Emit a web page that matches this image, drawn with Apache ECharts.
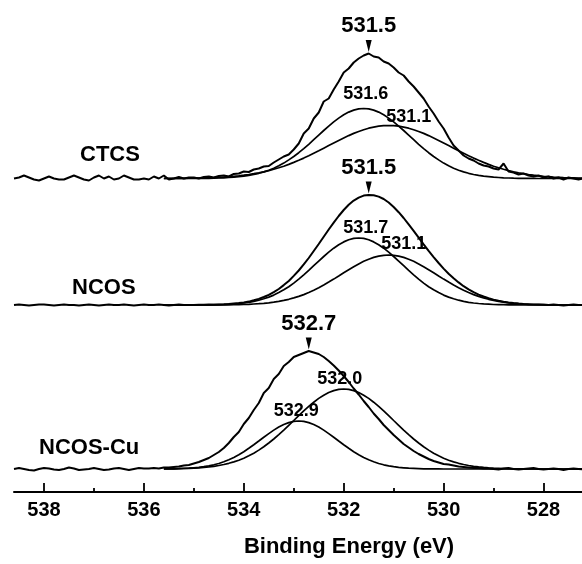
<!DOCTYPE html>
<html>
<head>
<meta charset="utf-8">
<script src="https://cdn.jsdelivr.net/npm/echarts@6/dist/echarts.min.js"></script>
<style>
  html, body { margin: 0; padding: 0; background: #fff; }
  #chart { width: 582px; height: 564px; }
</style>
</head>
<body>
<div id="chart"></div>
<script>
// O 1s spectra: measured envelopes and fitted components, binding energy in eV

// Binding energy grid of the measured spectra, 0.1 eV steps from high to low
const energy = [
  538.6, 538.5, 538.4, 538.3, 538.2, 538.1, 538.0, 537.9, 537.8, 537.7,
  537.6, 537.5, 537.4, 537.3, 537.2, 537.1, 537.0, 536.9, 536.8, 536.7,
  536.6, 536.5, 536.4, 536.3, 536.2, 536.1, 536.0, 535.9, 535.8, 535.7,
  535.6, 535.5, 535.4, 535.3, 535.2, 535.1, 535.0, 534.9, 534.8, 534.7,
  534.6, 534.5, 534.4, 534.3, 534.2, 534.1, 534.0, 533.9, 533.8, 533.7,
  533.6, 533.5, 533.4, 533.3, 533.2, 533.1, 533.0, 532.9, 532.8, 532.7,
  532.6, 532.5, 532.4, 532.3, 532.2, 532.1, 532.0, 531.9, 531.8, 531.7,
  531.6, 531.5, 531.4, 531.3, 531.2, 531.1, 531.0, 530.9, 530.8, 530.7,
  530.6, 530.5, 530.4, 530.3, 530.2, 530.1, 530.0, 529.9, 529.8, 529.7,
  529.6, 529.5, 529.4, 529.3, 529.2, 529.1, 529.0, 528.9, 528.8, 528.7,
  528.6, 528.5, 528.4, 528.3, 528.2, 528.1, 528.0, 527.9, 527.8, 527.7,
  527.6, 527.5, 527.4, 527.3, 527.2
];
// Fitted components are evaluated from 535.6 eV downwards
const fitEnergy = energy.slice(30);

// Measured intensities (a.u., above each spectrum's own baseline)
const ctcsRaw = [
  0, 1, 3, 1, -1, -2, 0, 2, 0, -1,
  -1, 1, 3, 1, -1, -2, 1, 3, 0, 2,
  -1, 0, 3, 1, -1, -1, 0, -1, 2, 0,
  3, -1, 0, 1.5, 0, 1, 1, 0, 1.5, 2,
  1, 2.5, 3, 2, 4.5, 5, 7, 6.5, 9, 10,
  12, 12.5, 16, 19, 22, 24, 29, 35, 45, 50,
  60, 66, 77, 80, 89, 97, 106, 110, 116, 120,
  123, 125, 122, 121, 117, 115, 111, 106, 103, 97,
  92, 86, 80, 72, 65, 57, 50, 41, 33, 28,
  23, 20, 18, 15, 13, 12, 10, 9, 15, 7,
  6, 4, 5, 3, 2, 3, 1, 2, 0, 1,
  -1, 1, 0, -1, 0
];
const ncosRaw = [
  0, 0.5, 0, -0.5, 0, 0.5, 0.5, 0, -0.5, 0,
  0.5, 0, 0, -0.5, 0, 0.5, 0, -0.5, 0, 0.5,
  0, 0, 0.5, 0, -0.5, 0, 0.5, 0, 0, 0.5,
  0, -0.5, 0, 0.5, 0, 0, 0, 0.3, 0.2, 0.4,
  0.3, 0.6, 0.7, 1.0, 1.5, 2.0, 2.6, 3.4, 4.7, 6.1,
  8.0, 10.1, 12.8, 16.0, 19.9, 24.0, 29.1, 34.5, 40.6, 47.0,
  54.0, 61.0, 68.3, 75.5, 82.4, 89.0, 95.0, 100.2, 104.4, 107.3,
  109.4, 110.0, 109.8, 108.4, 106.0, 102.5, 98.0, 92.8, 87.0, 80.6,
  74.2, 67.4, 60.6, 54.1, 47.9, 42.0, 36.4, 31.3, 26.7, 22.6,
  18.8, 15.6, 12.8, 10.4, 8.5, 6.8, 5.4, 4.2, 3.3, 2.6,
  2.0, 1.5, 1.1, 0.8, 0.5, 0.5, 0.3, 0, 0.5, 0,
  -0.5, 0, 0.5, 0, 0
];
const ncosCuRaw = [
  0, 1, 0, -1, -1.5, 0, 1, 0.5, -0.5, -1,
  0, 1.5, 0.5, -1, -0.5, 0, 1, 0, -1, -0.5,
  0.5, 1, 0, -1, 0, 1, 0.5, 0.5, 1, 0.5,
  1.5, 1.5, 2, 2.5, 3.5, 4, 5.5, 7, 9, 11,
  14, 17, 21, 26, 32, 37, 45, 51, 59, 66,
  76, 81, 90, 95, 103, 107, 112, 114, 116, 118,
  116.5, 115, 112, 108, 103.5, 98.5, 93, 87, 80.5, 74.5,
  68, 62, 55.5, 50, 44, 39, 34, 29.5, 25, 21.5,
  18, 15, 12.5, 10, 8, 6.5, 5, 4.5, 3.5, 2.5,
  2, 1.5, 1, 1, 0.5, 0.5, 0, -0.5, 0.5, 1,
  0, -0.5, 0, 0.5, 1, 0, -0.5, 0, 0.5, 0,
  -1, 0, 0.5, 0, -0.5
];

// Fitted components on fitEnergy
const ctcsFit531_6 = [
  0, 0, 0, 0, 0, 0, 0.1, 0.1, 0.2, 0.2,
  0.3, 0.5, 0.7, 1.0, 1.3, 1.8, 2.3, 3.1, 4.0, 5.2,
  6.6, 8.3, 10.3, 12.7, 15.4, 18.6, 22.0, 25.8, 29.9, 34.2,
  38.8, 43.4, 48.0, 52.4, 56.6, 60.4, 63.7, 66.4, 68.4, 69.6,
  70,
  69.6, 68.4, 66.4, 63.7, 60.4, 56.6, 52.4, 48.0, 43.4, 38.8,
  34.2, 29.9, 25.8, 22.0, 18.6, 15.4, 12.7, 10.3, 8.3, 6.6,
  5.2, 4.0, 3.1, 2.3, 1.8, 1.3, 1.0, 0.7, 0.5, 0.3,
  0.2, 0.2, 0.1, 0.1, 0, 0, 0, 0, 0, 0,
  0, 0, 0, 0
];
const ctcsFit531_1 = [
  0.1, 0.1, 0.1, 0.2, 0.2, 0.3, 0.4, 0.5, 0.6, 0.7,
  0.9, 1.2, 1.4, 1.8, 2.2, 2.7, 3.3, 4.0, 4.8, 5.7,
  6.7, 7.9, 9.2, 10.7, 12.3, 14.1, 16.1, 18.2, 20.4, 22.7,
  25.2, 27.7, 30.3, 32.9, 35.5, 38.1, 40.5, 42.9, 45.1, 47.0,
  48.8, 50.3, 51.4, 52.3, 52.8,
  53,
  52.8, 52.3, 51.4, 50.3, 48.8, 47.0, 45.1, 42.9, 40.5, 38.1,
  35.5, 32.9, 30.3, 27.7, 25.2, 22.7, 20.4, 18.2, 16.1, 14.1,
  12.3, 10.7, 9.2, 7.9, 6.7, 5.7, 4.8, 4.0, 3.3, 2.7,
  2.2, 1.8, 1.4, 1.2, 0.9, 0.7, 0.6, 0.5, 0.4
];
const ncosFit531_7 = [
  0, 0, 0, 0, 0, 0, 0, 0.1, 0.1, 0.2,
  0.3, 0.4, 0.5, 0.8, 1.1, 1.5, 2.0, 2.7, 3.6, 4.8,
  6.2, 7.9, 9.9, 12.4, 15.2, 18.3, 21.9, 25.9, 30.2, 34.6,
  39.3, 43.9, 48.5, 52.8, 56.8, 60.3, 63.1, 65.3, 66.6,
  67,
  66.6, 65.3, 63.1, 60.3, 56.8, 52.8, 48.5, 43.9, 39.3, 34.6,
  30.2, 25.9, 21.9, 18.3, 15.2, 12.4, 9.9, 7.9, 6.2, 4.8,
  3.6, 2.7, 2.0, 1.5, 1.1, 0.8, 0.5, 0.4, 0.3, 0.2,
  0.1, 0.1, 0, 0, 0, 0, 0, 0, 0, 0, 0, 0, 0, 0, 0
];
const ncosFit531_1 = [
  0, 0, 0, 0, 0, 0, 0, 0, 0, 0,
  0, 0.1, 0.1, 0.2, 0.3, 0.4, 0.5, 0.7, 1.0, 1.3,
  1.7, 2.2, 2.8, 3.6, 4.6, 5.7, 7.1, 8.6, 10.4, 12.5,
  14.8, 17.3, 20.0, 22.9, 25.9, 29.0, 32.2, 35.3, 38.3, 41.1,
  43.7, 45.8, 47.6, 48.9, 49.7,
  50,
  49.7, 48.9, 47.6, 45.8, 43.7, 41.1, 38.3, 35.3, 32.2, 29.0,
  25.9, 22.9, 20.0, 17.3, 14.8, 12.5, 10.4, 8.6, 7.1, 5.7,
  4.6, 3.6, 2.8, 2.2, 1.7, 1.3, 1.0, 0.7, 0.5, 0.4,
  0.3, 0.2, 0.1, 0.1, 0, 0, 0, 0, 0
];
const ncosCuFit532_9 = [
  0.1, 0.2, 0.2, 0.4, 0.6, 0.8, 1.2, 1.6, 2.3, 3.1,
  4.2, 5.5, 7.2, 9.2, 11.5, 14.3, 17.3, 20.7, 24.3, 28.0,
  31.8, 35.4, 38.9, 42.0, 44.5, 46.4, 47.6,
  48,
  47.6, 46.4, 44.5, 42.0, 38.9, 35.4, 31.8, 28.0, 24.3, 20.7,
  17.3, 14.3, 11.5, 9.2, 7.2, 5.5, 4.2, 3.1, 2.3, 1.6,
  1.2, 0.8, 0.6, 0.4, 0.2, 0.2, 0.1, 0.1, 0, 0,
  0, 0, 0, 0, 0, 0, 0, 0, 0, 0,
  0, 0, 0, 0, 0, 0, 0, 0, 0, 0,
  0, 0, 0, 0, 0, 0, 0
];
const ncosCuFit532_0 = [
  0.1, 0.2, 0.2, 0.3, 0.5, 0.7, 0.9, 1.2, 1.6, 2.1,
  2.7, 3.5, 4.5, 5.7, 7.1, 8.8, 10.8, 13.2, 15.8, 18.9,
  22.2, 26.0, 30.0, 34.4, 38.9, 43.7, 48.5, 53.4, 58.1, 62.6,
  66.8, 70.6, 73.8, 76.5, 78.4, 79.6,
  80,
  79.6, 78.4, 76.5, 73.8, 70.6, 66.8, 62.6, 58.1, 53.4, 48.5,
  43.7, 38.9, 34.4, 30.0, 26.0, 22.2, 18.9, 15.8, 13.2, 10.8,
  8.8, 7.1, 5.7, 4.5, 3.5, 2.7, 2.1, 1.6, 1.2, 0.9,
  0.7, 0.5, 0.3, 0.2, 0.2, 0.1, 0.1, 0, 0, 0,
  0, 0, 0, 0, 0, 0, 0, 0
];

// Peak positions (eV): envelope maxima and fitted component centres
const envelopePeaks = [531.5, 531.5, 532.7];      // CTCS, NCOS, NCOS-Cu
const ctcsFitCenters = [531.6, 531.1];
const ncosFitCenters = [531.7, 531.1];
const ncosCuFitCenters = [532.9, 532.0];

const sampleNames = ['CTCS', 'NCOS', 'NCOS-Cu'];
const majorTicks = [538, 536, 534, 532, 530, 528];
const minorTicks = [537, 535, 533, 531, 529];
const axisTitle = 'Binding Energy (eV)';

// ---- layout & style ----
const FONT = '"Liberation Sans", Arial, Helvetica, sans-serif';
const INK = '#000';
const baseline = [313.5, 187, 23];   // vertical stacking of the three spectra
const fitLabelOffset = [
  [[2, -14], [20, -8]],
  [[7, -10], [15, -11]],
  [[-2.5, -10], [-4, -10]]
];
const nameAnchor = [[80, 155], [72, 288], [39, 448]];

const samples = [
  { raw: ctcsRaw,   fits: [ctcsFit531_6, ctcsFit531_1],     centers: ctcsFitCenters },
  { raw: ncosRaw,   fits: [ncosFit531_7, ncosFit531_1],     centers: ncosFitCenters },
  { raw: ncosCuRaw, fits: [ncosCuFit532_9, ncosCuFit532_0], centers: ncosCuFitCenters }
];

function curve(xs, ys, base, width) {
  return {
    type: 'line',
    xAxisIndex: 0, yAxisIndex: 0,
    data: ys.map((v, i) => [xs[i], v + base]),
    symbol: 'none',
    silent: true,
    lineStyle: { color: INK, width: width, opacity: 1 },
    z: 3
  };
}

const series = [];
const arrowData = [];
const fitLabelData = [];

samples.forEach((s, k) => {
  const base = baseline[k];
  series.push(curve(energy, s.raw, base, 2));
  s.fits.forEach((f, j) => {
    series.push(curve(fitEnergy, f, base, 1.7));
    const h = Math.max.apply(null, f);
    fitLabelData.push({
      value: [s.centers[j], h + base],
      label: { offset: fitLabelOffset[k][j] }
    });
  });
  const idx = energy.indexOf(envelopePeaks[k]);
  arrowData.push([envelopePeaks[k], s.raw[idx] + base]);
});

const labelText = {
  color: INK,
  opacity: 1,
  fontFamily: FONT,
  fontWeight: 'bold'
};

// peak arrows with their binding energy
series.push({
  type: 'scatter',
  data: arrowData,
  symbol: 'path://M0,0 L10,0 L5,20 Z',
  symbolSize: [6, 12],
  symbolOffset: [0, -7.5],
  itemStyle: { color: INK, opacity: 1 },
  silent: true,
  z: 5,
  label: Object.assign({
    show: true,
    position: 'top',
    distance: 3,
    fontSize: 22,
    formatter: p => p.value[0].toFixed(1)
  }, labelText)
});

// component centre labels
series.push({
  type: 'scatter',
  data: fitLabelData,
  symbolSize: 1,
  itemStyle: { color: 'rgba(0,0,0,0)', opacity: 1 },
  silent: true,
  z: 5,
  label: Object.assign({
    show: true,
    position: 'inside',
    align: 'center',
    verticalAlign: 'middle',
    fontSize: 18,
    formatter: p => p.value[0].toFixed(1)
  }, labelText)
});

const graphics = sampleNames.map((name, k) => ({
  type: 'text',
  x: nameAnchor[k][0],
  y: nameAnchor[k][1],
  silent: true,
  style: {
    text: name,
    fill: INK,
    font: 'bold 22px ' + FONT,
    align: 'left',
    verticalAlign: 'middle'
  }
}));
graphics.push({
  type: 'text',
  x: 349,
  y: 547,
  silent: true,
  style: {
    text: axisTitle,
    fill: INK,
    font: 'bold 22px ' + FONT,
    align: 'center',
    verticalAlign: 'middle'
  }
});

const xCommon = {
  type: 'value',
  min: 527.23,
  max: 538.6,
  inverse: true,
  position: 'bottom',
  splitLine: { show: false }
};

const chart = echarts.init(document.getElementById('chart'), null, { renderer: 'canvas' });
chart.setOption({
  animation: false,
  backgroundColor: '#fff',
  grid: { left: 14, right: 0, top: 0, bottom: 72 },
  xAxis: [
    Object.assign({}, xCommon, {
      axisLine: { show: true, lineStyle: { color: INK, width: 2 } },
      axisTick: { show: true, inside: true, length: 9, customValues: majorTicks, lineStyle: { color: INK, width: 1.8 } },
      axisLabel: {
        show: true, customValues: majorTicks, margin: 8,
        color: INK, fontFamily: FONT, fontWeight: 'bold', fontSize: 20,
        formatter: v => String(v)
      }
    }),
    Object.assign({}, xCommon, {
      axisLine: { show: false },
      axisTick: { show: true, inside: true, length: 4, customValues: minorTicks, lineStyle: { color: INK, width: 1.8 } },
      axisLabel: { show: false }
    })
  ],
  yAxis: { type: 'value', min: 0, max: 492, show: false },
  graphic: graphics,
  series: series
});
</script>
</body>
</html>
